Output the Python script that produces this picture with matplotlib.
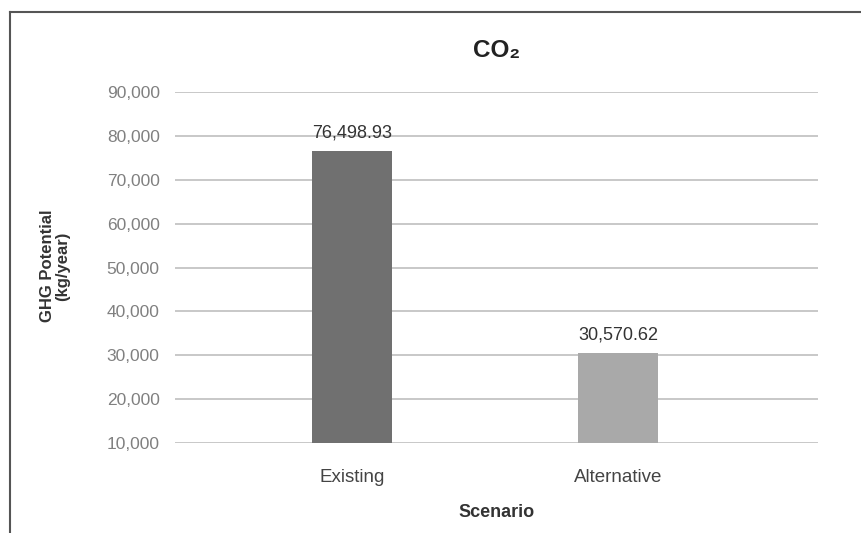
import matplotlib
matplotlib.use('Agg')
import matplotlib.pyplot as plt
from matplotlib.ticker import FuncFormatter
from matplotlib.lines import Line2D

# data
scenarios = ['Existing', 'Alternative']
values = [76498.93, 30570.62]
value_labels = ['76,498.93', '30,570.62']
bar_colors = ['#707070', '#a9a9a9']
yticks = [10000, 20000, 30000, 40000, 50000, 60000, 70000, 80000, 90000]

plt.rcParams['font.family'] = ['Liberation Sans', 'DejaVu Sans']

fig = plt.figure(figsize=(8.61, 5.33), dpi=100)
ax = fig.add_axes([175/861, 1 - 443/533, (818-175)/861, (443-92)/533])

x = list(range(len(scenarios)))
ax.bar(x, values, width=0.30, color=bar_colors, zorder=3)
for xi, v, lab in zip(x, values, value_labels):
    ax.text(xi, v + 2200, lab, ha='center', va='bottom', fontsize=13, color='#333333')

ax.set_xlim(-0.665, 1.752)
ax.set_ylim(10000, 90000)
ax.set_yticks(yticks)
ax.yaxis.set_major_formatter(FuncFormatter(lambda v, p: '{:,.0f}'.format(v)))
ax.grid(axis='y', color='#c4c4c4', linewidth=1.3, zorder=0)
ax.tick_params(axis='y', length=0, pad=11, labelsize=12.5, labelcolor='#808080')
ax.tick_params(axis='x', length=0, pad=19, labelsize=13.5, labelcolor='#444444')
ax.set_xticks(x)
ax.set_xticklabels(scenarios)
for s in ax.spines.values():
    s.set_visible(False)

ax.set_title('CO₂', fontsize=17.5, fontweight='bold', color='#222222', pad=25)
ax.set_xlabel('Scenario', fontsize=13, fontweight='bold', color='#333333', labelpad=13)
fig.text(55/861, 1 - 266/533, 'GHG Potential\n(kg/year)', rotation=90, ha='center', va='center',
         fontsize=12, fontweight='bold', color='#333333', linespacing=1.0)

# frame lines around the chart area
fig.add_artist(Line2D([10/861, 1], [1 - 12/533, 1 - 12/533], color='#555555', linewidth=1.5))
fig.add_artist(Line2D([10/861, 10/861], [0, 1 - 12/533], color='#555555', linewidth=1.5))

fig.savefig('out.png', dpi=100)
